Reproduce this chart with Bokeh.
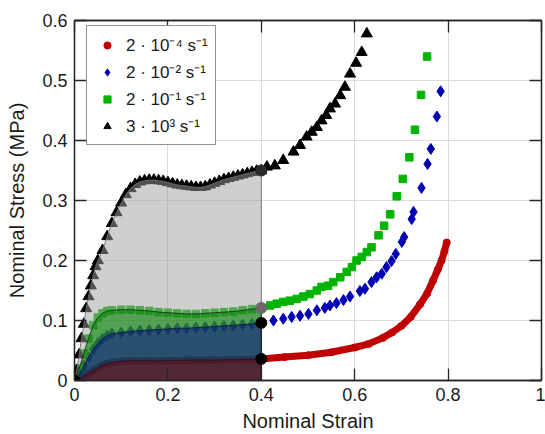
from bokeh.plotting import figure
from bokeh.models import Range1d, LinearAxis, FixedTicker, Legend, LegendItem, CustomLabelingPolicy
from bokeh.embed import file_html
from bokeh.resources import INLINE

# ---------------- data ----------------
x_ticks = [0, 0.2, 0.4, 0.6, 0.8, 1]
x_tick_labels = ["0", "0.2", "0.4", "0.6", "0.8", "1"]
y_ticks = [0, 0.1, 0.2, 0.3, 0.4, 0.5, 0.6]
y_tick_labels = ["0", "0.1", "0.2", "0.3", "0.4", "0.5", "0.6"]

series_labels = ["2 · 10⁻⁴ s⁻¹", "2 · 10⁻² s⁻¹", "2 · 10⁻¹ s⁻¹", "3 · 10³ s⁻¹"]
shade_limit = 0.4

red_strain = [0, 0.01, 0.02, 0.03, 0.04, 0.05, 0.06, 0.07, 0.08, 0.10, 0.12, 0.15, 0.20, 0.25,
              0.30, 0.35, 0.40, 0.45, 0.50, 0.55, 0.60, 0.63, 0.66, 0.68, 0.70, 0.72, 0.74,
              0.755, 0.768, 0.778, 0.786, 0.792, 0.797]
red_stress = [0, 0.003, 0.007, 0.012, 0.017, 0.021, 0.026, 0.028, 0.030, 0.032, 0.033, 0.033,
              0.033, 0.034, 0.034, 0.035, 0.036, 0.039, 0.042, 0.047, 0.055, 0.061, 0.071,
              0.080, 0.091, 0.106, 0.127, 0.145, 0.167, 0.185, 0.2, 0.215, 0.23]

blue_strain = [0, 0.01, 0.02, 0.03, 0.04, 0.05, 0.06, 0.07, 0.08, 0.10, 0.12, 0.14, 0.16, 0.18,
               0.20, 0.22, 0.24, 0.26, 0.28, 0.30, 0.32, 0.34, 0.36, 0.38, 0.40, 0.426, 0.447,
               0.465, 0.483, 0.501, 0.519, 0.536, 0.547, 0.561, 0.576, 0.590, 0.611, 0.622,
               0.636, 0.647, 0.658, 0.668, 0.679, 0.688, 0.701, 0.706, 0.722, 0.726, 0.743,
               0.756, 0.763, 0.776, 0.784]
blue_stress = [0, 0.01, 0.025, 0.039, 0.052, 0.062, 0.070, 0.075, 0.078, 0.080, 0.082, 0.083,
               0.084, 0.085, 0.086, 0.087, 0.087, 0.088, 0.089, 0.090, 0.091, 0.092, 0.093,
               0.094, 0.096, 0.100, 0.103, 0.106, 0.108, 0.111, 0.117, 0.121, 0.125, 0.129,
               0.134, 0.140, 0.149, 0.153, 0.164, 0.172, 0.178, 0.189, 0.199, 0.211, 0.231,
               0.239, 0.269, 0.281, 0.321, 0.361, 0.386, 0.44, 0.482]

green_strain = [0, 0.01, 0.02, 0.03, 0.04, 0.05, 0.06, 0.07, 0.08, 0.10, 0.12, 0.14, 0.16,
                0.18, 0.20, 0.22, 0.24, 0.26, 0.28, 0.30, 0.32, 0.34, 0.36, 0.38, 0.40, 0.419,
                0.433, 0.447, 0.461, 0.476, 0.490, 0.504, 0.519, 0.529, 0.543, 0.554, 0.569,
                0.583, 0.594, 0.604, 0.615, 0.626, 0.636, 0.651, 0.663, 0.676, 0.690, 0.703,
                0.717, 0.729, 0.742, 0.755]
green_stress = [0, 0.02, 0.045, 0.07, 0.092, 0.105, 0.112, 0.116, 0.117, 0.118, 0.118, 0.117,
                0.116, 0.114, 0.113, 0.112, 0.111, 0.111, 0.112, 0.113, 0.114, 0.115, 0.117,
                0.119, 0.121, 0.125, 0.128, 0.131, 0.133, 0.136, 0.140, 0.144, 0.150, 0.156,
                0.158, 0.164, 0.172, 0.181, 0.189, 0.2, 0.206, 0.214, 0.222, 0.242, 0.258,
                0.277, 0.307, 0.336, 0.372, 0.418, 0.476, 0.540]

black_strain = [0, 0.005, 0.01, 0.015, 0.02, 0.025, 0.03, 0.035, 0.04, 0.045, 0.05, 0.06,
                0.07, 0.08, 0.09, 0.10, 0.11, 0.12, 0.13, 0.14, 0.15, 0.16, 0.17, 0.18, 0.19,
                0.20, 0.21, 0.22, 0.23, 0.24, 0.25, 0.26, 0.27, 0.28, 0.29, 0.30, 0.31, 0.32,
                0.33, 0.34, 0.35, 0.36, 0.37, 0.38, 0.39, 0.40, 0.412, 0.429, 0.447, 0.469,
                0.483, 0.497, 0.508, 0.519, 0.529, 0.539, 0.547, 0.558, 0.569, 0.579, 0.590,
                0.603, 0.615, 0.626]
black_stress = [0, 0.017, 0.043, 0.07, 0.094, 0.12, 0.14, 0.158, 0.175, 0.19, 0.2, 0.217,
                0.24, 0.262, 0.28, 0.296, 0.31, 0.32, 0.327, 0.331, 0.333, 0.334, 0.334,
                0.333, 0.332, 0.330, 0.328, 0.326, 0.325, 0.324, 0.323, 0.322, 0.322, 0.323,
                0.326, 0.329, 0.332, 0.335, 0.337, 0.339, 0.341, 0.343, 0.345, 0.347, 0.349,
                0.35, 0.356, 0.358, 0.367, 0.381, 0.392, 0.406, 0.414, 0.422, 0.433, 0.442,
                0.453, 0.461, 0.475, 0.489, 0.511, 0.529, 0.547, 0.578]

# ---------------- styling ----------------
FONT = "Liberation Sans"
AX = "#262626"
RED, BLUE, GREEN, BLACK = "#c00000", "#0000b4", "#00b400", "#000000"

p = figure(width=545, height=434, x_range=Range1d(0, 1), y_range=Range1d(0, 0.6),
           output_backend="svg", toolbar_location=None,
           min_border_left=74, min_border_right=4, min_border_top=20, min_border_bottom=54)
p.background_fill_color = "white"
p.border_fill_color = "white"
p.outline_line_color = AX
p.outline_line_width = 1.3

no_labels = CustomLabelingPolicy(code="""
    for (let i = 0; i < indices.size; i++) indices.unset(i)
    return indices
""")


def style_axis(ax, ticks, labels, show_labels=True):
    ax.ticker = FixedTicker(ticks=ticks)
    ax.axis_line_color = AX
    ax.axis_line_width = 1.3
    ax.major_tick_line_color = AX
    ax.major_tick_line_width = 1.3
    ax.major_tick_in = 12
    ax.major_tick_out = 0
    ax.minor_tick_line_color = None
    ax.minor_tick_in = 0
    ax.minor_tick_out = 0
    if show_labels:
        ax.major_label_overrides = {t: l for t, l in zip(ticks, labels)}
        ax.major_label_text_font = FONT
        ax.major_label_text_font_size = "18px"
        ax.major_label_text_color = "#1a1a1a"
        ax.major_label_standoff = 7
        ax.axis_label_text_font = FONT
        ax.axis_label_text_font_size = "20px"
        ax.axis_label_text_font_style = "normal"
        ax.axis_label_text_color = "#1a1a1a"
        ax.axis_label_standoff = 6
    else:
        ax.major_label_policy = no_labels
        ax.major_label_text_font_size = "0px"
        ax.major_label_standoff = 0


style_axis(p.xaxis[0], x_ticks, x_tick_labels)
style_axis(p.yaxis[0], y_ticks, y_tick_labels)
p.xaxis[0].axis_label = "Nominal Strain"
p.yaxis[0].axis_label = "Nominal Stress (MPa)"
p.yaxis[0].axis_label_standoff = 11

top_axis = LinearAxis()
style_axis(top_axis, x_ticks, x_tick_labels, show_labels=False)
p.add_layout(top_axis, "above")
right_axis = LinearAxis()
style_axis(right_axis, y_ticks, y_tick_labels, show_labels=False)
p.add_layout(right_axis, "right")

p.xgrid.ticker = FixedTicker(ticks=x_ticks)
p.ygrid.ticker = FixedTicker(ticks=y_ticks)
for g in (p.xgrid[0], p.ygrid[0]):
    g.grid_line_color = "#dcdcdc"
    g.grid_line_width = 1

# ---------------- markers ----------------
p.line(red_strain, red_stress, line_color=RED, line_width=7, line_cap="round", line_join="round")
r_red = p.scatter(red_strain, red_stress, marker="circle", size=7, fill_color=RED, line_color=RED)
r_blue = p.scatter(blue_strain, blue_stress, marker="diamond", size=11, fill_color=BLUE, line_color=BLUE)
r_green = p.scatter(green_strain, green_stress, marker="square", size=7.5, fill_color=GREEN, line_color=GREEN)
r_black = p.scatter(black_strain, black_stress, marker="triangle", size=11, fill_color=BLACK, line_color=BLACK)

# ---------------- shaded areas up to strain 0.4 ----------------
def shade(strain, stress, fill, alpha, line):
    xs = [s for s in strain if s <= shade_limit]
    ys = stress[:len(xs)]
    p.patch(xs + [xs[-1], 0], ys + [0, 0], fill_color=fill, fill_alpha=alpha,
            line_color=line, line_width=1, line_alpha=0.9)
    return xs[-1], ys[-1]


end_black = shade(black_strain, black_stress, "#a0a0a0", 0.5, "#707070")
end_green = shade(green_strain, green_stress, "#008200", 0.6, "#16321a")
end_blue = shade(blue_strain, blue_stress, "#00008c", 0.5, "#141e3c")
end_red = shade(red_strain, red_stress, "#780000", 0.5, "#2a1018")

dots_x = [red_strain[0], end_black[0], end_green[0], end_blue[0], end_red[0]]
dots_y = [red_stress[0], end_black[1], end_green[1], end_blue[1], end_red[1]]
dots_c = ["#000000", "#2a2a2a", "#6a6a6a", "#000000", "#000000"]
p.scatter(dots_x, dots_y, marker="circle", size=11, fill_color=dots_c, line_color=dots_c)

# ---------------- legend ----------------
legend = Legend(items=[LegendItem(label=series_labels[0], renderers=[r_red]),
                       LegendItem(label=series_labels[1], renderers=[r_blue]),
                       LegendItem(label=series_labels[2], renderers=[r_green]),
                       LegendItem(label=series_labels[3], renderers=[r_black])],
                location=(12, 235), margin=0, padding=7, spacing=4,
                glyph_width=26, glyph_height=18, label_height=20, label_standoff=6,
                label_text_font=FONT, label_text_font_size="17px", label_text_color="#1a1a1a",
                border_line_color=AX, border_line_width=1.3, background_fill_alpha=1)
p.add_layout(legend)

open("out.html", "w").write(file_html(p, INLINE))
